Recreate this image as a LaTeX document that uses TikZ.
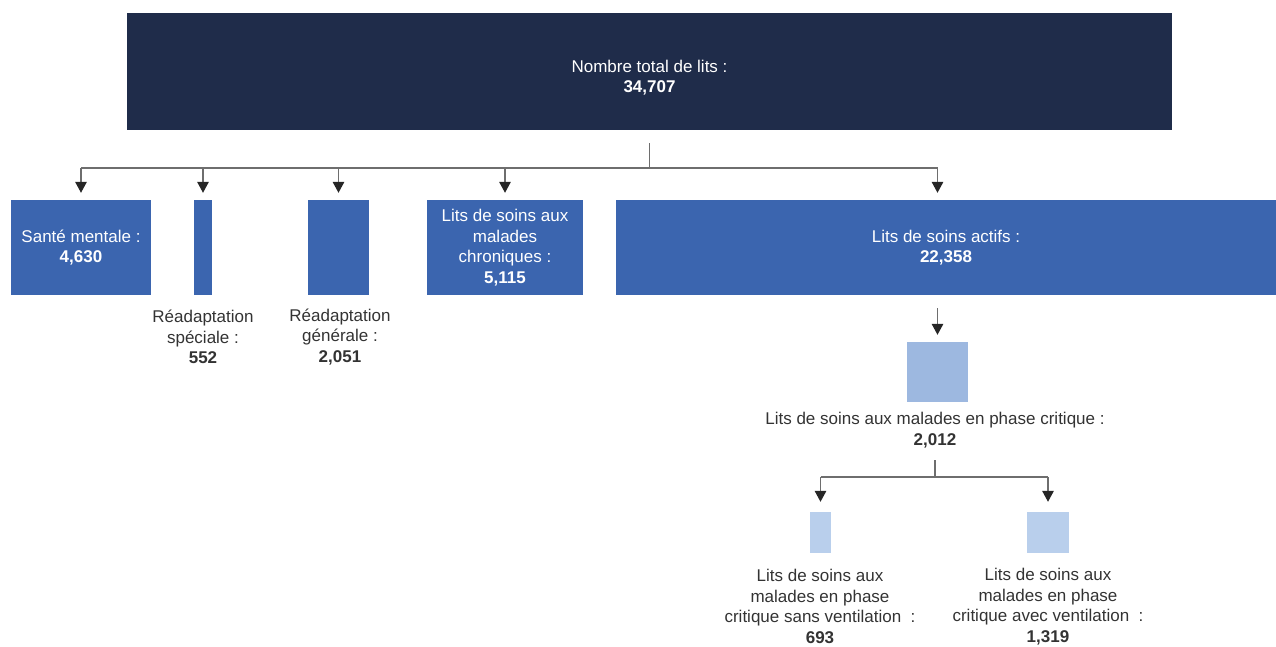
\documentclass[tikz,border=0pt]{standalone}
\usepackage{fontspec}
\setmainfont{Liberation Sans}
\usepackage{xcolor}
\usetikzlibrary{arrows.meta,positioning}

\definecolor{navy}{HTML}{1F2C4A}
\definecolor{midblue}{HTML}{3B65AF}
\definecolor{critblue}{HTML}{9DB8E0}
\definecolor{leafblue}{HTML}{B9CFEC}
\definecolor{linegray}{HTML}{6E6E6E}
\definecolor{txtgray}{HTML}{333333}

\begin{document}
\begin{tikzpicture}[x=1pt,y=-1pt,
  font=\fontsize{17}{20.5}\selectfont,
  box/.style={rectangle,inner sep=0pt,draw=none,text=white,align=center},
  lbl/.style={inner sep=0pt,text=txtgray,align=center},
  link/.style={draw=linegray,line width=1.5pt},
  arr/.style={link,-{Triangle[width=11.5pt,length=11pt,color=black!85]},shorten >=7pt}]
  \useasboundingbox (0,0) rectangle (1276,646);

  % level 0
  \node[box,fill=navy,minimum width=1045pt,minimum height=117pt] (total) at (649.5,71.5)
    {\rule{0pt}{25pt}Nombre total de lits :\\\textbf{34,707}};

  % level 1
  \node[box,fill=midblue,minimum width=140pt,minimum height=95pt] (mental) at (81,247.5)
    {Sant\'e mentale :\\\textbf{4,630}};
  \node[box,fill=midblue,minimum width=18pt,minimum height=95pt] (special) at (203,247.5) {};
  \node[box,fill=midblue,minimum width=61pt,minimum height=95pt] (general) at (338.5,247.5) {};
  \node[box,fill=midblue,minimum width=156pt,minimum height=95pt] (chronic) at (505,247.5)
    {Lits de soins aux\\malades\\chroniques :\\\textbf{5,115}};
  \node[box,fill=midblue,minimum width=660pt,minimum height=95pt] (actifs) at (946,247.5)
    {Lits de soins actifs :\\\textbf{22,358}};
  \node[lbl] (speciallbl) at (203,337) {R\'eadaptation\\sp\'eciale :\\\textbf{552}};
  \node[lbl] (generallbl) at (340,337) {R\'eadaptation\\g\'en\'erale :\\\textbf{2,051}};

  % level 2
  \node[box,fill=critblue,minimum width=61pt,minimum height=60pt] (crit) at (937.5,372) {};
  \node[lbl] (critlbl) at (935,430) {Lits de soins aux malades en phase critique :\\\textbf{2,012}};

  % level 3
  \node[box,fill=leafblue,minimum width=21pt,minimum height=41pt] (sans) at (820.5,532.5) {};
  \node[box,fill=leafblue,minimum width=42pt,minimum height=41pt] (avec) at (1048,532.5) {};
  \node[lbl] (sanslbl) at (820,606.5)
    {Lits de soins aux\\malades en phase\\critique sans ventilation\ \ :\\\textbf{693}};
  \node[lbl] (aveclbl) at (1048,606.5)
    {Lits de soins aux\\malades en phase\\critique avec ventilation\ \ :\\\textbf{1,319}};

  % connectors
  \coordinate (hub) at ([yshift=-38pt]total.south);
  \draw[link] ([yshift=-13pt]total.south) -- (hub);
  \draw[link] (mental |- hub) -- (crit |- hub);
  \foreach \n in {mental,special,general,chronic}
    \draw[arr] (\n |- hub) -- (\n.north);
  \draw[arr] (crit |- hub) -- (crit |- actifs.north);
  \draw[arr,shorten <=13pt] (crit |- actifs.south) -- (crit.north);

  \coordinate (hub2) at (935,477);
  \draw[link] (hub2) -- ++(0,-17);
  \draw[link] (sans |- hub2) -- (avec |- hub2);
  \draw[arr,shorten >=10pt] (sans |- hub2) -- (sans.north);
  \draw[arr,shorten >=10pt] (avec |- hub2) -- (avec.north);
\end{tikzpicture}
\end{document}
